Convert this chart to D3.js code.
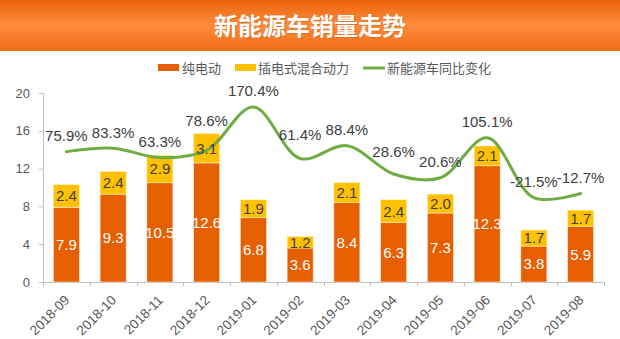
<!DOCTYPE html>
<html><head><meta charset="utf-8">
<script src="https://cdn.jsdelivr.net/npm/d3@7"></script>
<style>
html,body{margin:0;padding:0;background:#fff;}
svg{display:block;}
text{font-family:Arial,"Liberation Sans","Noto Sans CJK SC",sans-serif;}
</style></head>
<body>
<script>
const title = "新能源车销量走势";
const months = ["2018-09","2018-10","2018-11","2018-12","2019-01","2019-02","2019-03","2019-04","2019-05","2019-06","2019-07","2019-08"];
const bev = [7.9,9.3,10.5,12.6,6.8,3.6,8.4,6.3,7.3,12.3,3.8,5.9];
const phev = [2.4,2.4,2.9,3.1,1.9,1.2,2.1,2.4,2.0,2.1,1.7,1.7];
const yoy = [75.9,83.3,63.3,78.6,170.4,61.4,88.4,28.6,20.6,105.1,-21.5,-12.7];
const yTicks = [0,4,8,12,16,20];
const seriesNames = ["纯电动","插电式混合动力","新能源车同比变化"];

const W = 620, H = 339;
const colors = {bev:"#E65F00", phev:"#FFC000", line:"#6FAC46"};
const svg = d3.select("body").append("svg").attr("width",W).attr("height",H);

// title bar
const defs = svg.append("defs");
const g1 = defs.append("linearGradient").attr("id","tg").attr("x1",0).attr("y1",0).attr("x2",0).attr("y2",1);
g1.append("stop").attr("offset","0%").attr("stop-color","#E9630C");
g1.append("stop").attr("offset","50%").attr("stop-color","#FF8C3E");
g1.append("stop").attr("offset","100%").attr("stop-color","#EE6C14");
svg.append("rect").attr("x",0).attr("y",0).attr("width",W).attr("height",51).attr("fill","url(#tg)");
svg.append("text").attr("x",310).attr("y",26).attr("text-anchor","middle").attr("dy","0.36em")
  .attr("fill","#B94A00").attr("opacity",0.35).attr("transform","translate(1,1)")
  .style("font-family","'Noto Sans CJK SC',sans-serif").style("font-weight","bold").style("font-size","24px").text(title);
svg.append("text").attr("x",310).attr("y",26).attr("text-anchor","middle").attr("dy","0.36em")
  .attr("fill","#fff")
  .style("font-family","'Noto Sans CJK SC',sans-serif").style("font-weight","bold").style("font-size","24px").text(title);

// legend
const lg = svg.append("g").style("font-family","'Noto Sans CJK SC',sans-serif").style("font-size","13px").attr("fill","#595959");
lg.append("rect").attr("x",158).attr("y",64).attr("width",21).attr("height",7).attr("fill",colors.bev);
lg.append("text").attr("x",182).attr("y",68).attr("dy","0.36em").text(seriesNames[0]);
lg.append("rect").attr("x",235).attr("y",64).attr("width",21).attr("height",7).attr("fill",colors.phev);
lg.append("text").attr("x",258).attr("y",68).attr("dy","0.36em").text(seriesNames[1]);
lg.append("line").attr("x1",363).attr("x2",385).attr("y1",68).attr("y2",68).attr("stroke",colors.line).attr("stroke-width",3);
lg.append("text").attr("x",387).attr("y",68).attr("dy","0.36em").text(seriesNames[2]);

// scales
const x = d3.scaleBand().domain(months).range([43,604]).paddingInner(0.444).paddingOuter(0.222);
const step = x.step();
const y = d3.scaleLinear().domain([0,20]).range([282,93]);
const y2 = d3.scaleLinear().domain([-200,200]).range([282,93]);

// y axis
const yAxis = d3.axisLeft(y).tickValues(yTicks).tickSize(4).tickPadding(9);
const ya = svg.append("g").attr("transform","translate(43,0)").call(yAxis);
ya.select(".domain").attr("stroke","#BFBFBF").attr("d","M-4,93.5H0.5V282.5");
ya.selectAll(".tick line").attr("stroke","#BFBFBF");
ya.selectAll(".tick text").attr("fill","#595959").style("font-size","13px").style("font-family","Arial,'Liberation Sans',sans-serif");

// x axis
const xa = svg.append("g").attr("transform","translate(0,282)");
xa.append("line").attr("x1",43).attr("x2",604).attr("y1",0.5).attr("y2",0.5).attr("stroke","#BFBFBF");
const bounds = months.map((m,i)=>43+i*step).concat([43+months.length*step]);
xa.selectAll("line.tk").data(bounds).join("line").attr("class","tk")
  .attr("x1",d=>Math.round(d)+0.5).attr("x2",d=>Math.round(d)+0.5).attr("y1",0).attr("y2",4).attr("stroke","#BFBFBF");
xa.selectAll("text").data(months).join("text")
  .attr("transform",d=>`translate(${x(d)+x.bandwidth()/2+4},${19}) rotate(-45)`)
  .attr("text-anchor","end")
  .attr("fill","#595959").style("font-size","13.5px").text(d=>d);

// bars
const bars = svg.append("g");
const data = months.map((m,i)=>({m, a:bev[i], b:phev[i], r:yoy[i]}));
bars.selectAll("rect.a").data(data).join("rect").attr("class","a")
  .attr("x",d=>x(d.m)).attr("width",x.bandwidth())
  .attr("y",d=>y(d.a)).attr("height",d=>y(0)-y(d.a))
  .attr("fill",colors.bev).attr("stroke","#FFE3CC").attr("stroke-width",0.6);
bars.selectAll("rect.b").data(data).join("rect").attr("class","b")
  .attr("x",d=>x(d.m)).attr("width",x.bandwidth())
  .attr("y",d=>y(d.a+d.b)).attr("height",d=>y(d.a)-y(d.a+d.b))
  .attr("fill",colors.phev).attr("stroke","#FFEFB8").attr("stroke-width",0.6);

// line
const cx = d=>x(d.m)+x.bandwidth()/2;
const line = d3.line().x(cx).y(d=>y2(d.r)).curve(d3.curveCatmullRom.alpha(0.5));
svg.append("path").datum(data).attr("d",line).attr("fill","none")
  .attr("stroke",colors.line).attr("stroke-width",3).attr("stroke-linecap","round");

// bar labels
const lbl = svg.append("g").style("font-size","15px").attr("text-anchor","middle");
lbl.selectAll("text.a").data(data).join("text").attr("class","a")
  .attr("x",cx).attr("y",d=>y(d.a/2)).attr("dy","0.36em").attr("fill","#fff").text(d=>d.a.toFixed(1));
lbl.selectAll("text.b").data(data).join("text").attr("class","b")
  .attr("x",cx).attr("y",d=>y(d.a+d.b/2)).attr("dy","0.36em").attr("fill","#404040").text(d=>d.b.toFixed(1));

// line labels (manual nudges as in original)
const nudge = {"2018-12":-30,"2019-02":-24,"2019-04":-22};
lbl.selectAll("text.r").data(data).join("text").attr("class","r")
  .attr("x",cx).attr("y",d=>y2(d.r)+(nudge[d.m]!==undefined?nudge[d.m]:-16)).attr("dy","0.36em")
  .attr("fill","#404040").text(d=>d.r.toFixed(1)+"%");
</script>
</body></html>
